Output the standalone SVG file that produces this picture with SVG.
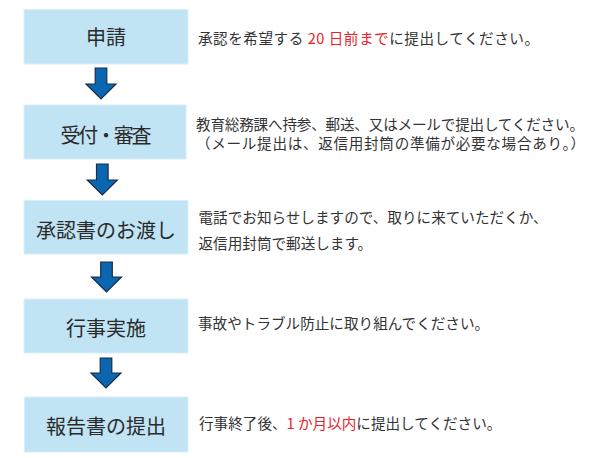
<svg xmlns="http://www.w3.org/2000/svg" width="600" height="458" viewBox="0 0 600 458">
<style>
.box{fill:#c1e4f5;stroke:#d8eff9;stroke-width:1}
.lbl{font-family:"Noto Sans CJK JP","Noto Sans",sans-serif;font-size:20px;fill:#2a2a2a;text-anchor:middle}
.desc{font-family:"Noto Sans CJK JP","Noto Sans",sans-serif;font-size:14.6px;fill:#333}
.red{fill:#e8222b}
.arrow{fill:#0b66b2;stroke:#1b2d45;stroke-width:1.2;stroke-linejoin:miter}
</style>
<rect width="600" height="458" fill="#fff"/>
<g id="n1">
<rect class="box" x="24" y="9.5" width="164" height="54.5"/>
<text class="lbl" x="106" y="45">申請</text>
<text class="desc" x="198" y="43.5" textLength="341" lengthAdjust="spacing">承認を希望する<tspan class="red"> 20 日前まで</tspan>に提出してください。</text>
</g>
<g id="n2">
<rect class="box" x="24" y="105" width="162" height="54"/>
<text class="lbl" x="106" y="143" textLength="91" lengthAdjust="spacing">受付・審査</text>
<text class="desc" x="196" y="129.5" textLength="388" lengthAdjust="spacing">教育総務課へ持参、郵送、又はメールで提出してください。</text>
<text class="desc" x="196" y="149.2" textLength="389" lengthAdjust="spacing">（メール提出は、返信用封筒の準備が必要な場合あり。）</text>
</g>
<g id="n3">
<rect class="box" x="24" y="200.5" width="164" height="53.5"/>
<text class="lbl" x="106" y="238">承認書のお渡し</text>
<text class="desc" x="198.5" y="223.2">電話でお知らせしますので、取りに来ていただくか、</text>
<text class="desc" x="198.5" y="248.5">返信用封筒で郵送します。</text>
</g>
<g id="n4">
<rect class="box" x="24" y="299" width="164" height="54"/>
<text class="lbl" x="106" y="336">行事実施</text>
<text class="desc" x="198" y="328.5">事故やトラブル防止に取り組んでください。</text>
</g>
<g id="n5">
<rect class="box" x="24.5" y="397" width="163.5" height="55"/>
<text class="lbl" x="106" y="433.5">報告書の提出</text>
<text class="desc" x="199" y="428.5">行事終了後、<tspan class="red">1 か月以内</tspan>に提出してください。</text>
</g>
<g id="connectors">
<polygon class="arrow" points="95.2,68 106.8,68 106.8,84 116,84 101,99 86,84 95.2,84"/>
<polygon class="arrow" points="96.5,164 108.1,164 108.1,180 117.3,180 102.3,195 87.3,180 96.5,180"/>
<polygon class="arrow" points="100.7,262 112.3,262 112.3,277 121.5,277 106.5,292 91.5,277 100.7,277"/>
<polygon class="arrow" points="100.2,358 111.8,358 111.8,373 121,373 106,388 91,373 100.2,373"/>
</g>
</svg>
